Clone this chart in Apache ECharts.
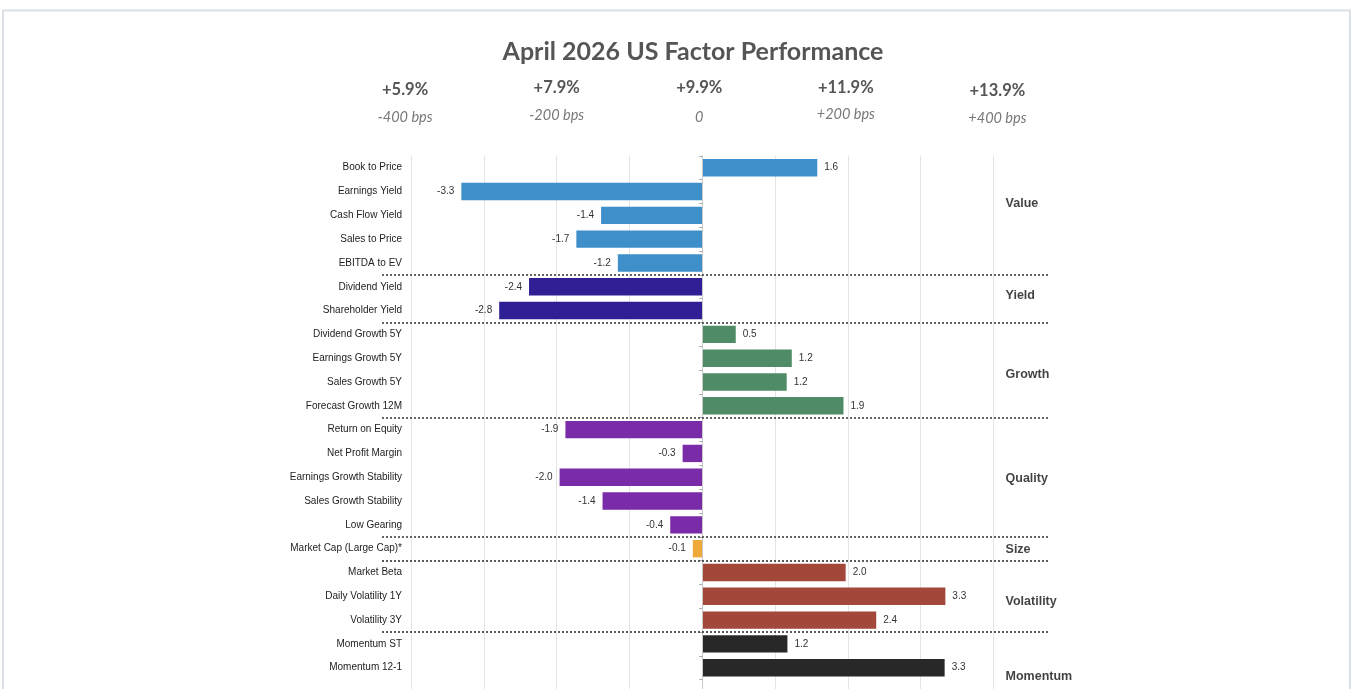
<!DOCTYPE html>
<html><head><meta charset="utf-8">
<script src="https://cdn.jsdelivr.net/npm/echarts@6/dist/echarts.min.js"></script>
<style>html,body{margin:0;padding:0;background:#fff;overflow:hidden}#c{width:1354px;height:689px}</style>
</head><body><div id="c"></div>
<script>
// ---------- data ----------
const chartTitle = 'April 2026 US Factor Performance';
const factors = ['Book to Price','Earnings Yield','Cash Flow Yield','Sales to Price','EBITDA to EV',
  'Dividend Yield','Shareholder Yield',
  'Dividend Growth 5Y','Earnings Growth 5Y','Sales Growth 5Y','Forecast Growth 12M',
  'Return on Equity','Net Profit Margin','Earnings Growth Stability','Sales Growth Stability','Low Gearing',
  'Market Cap (Large Cap)*',
  'Market Beta','Daily Volatility 1Y','Volatility 3Y',
  'Momentum ST','Momentum 12-1'];
const factorGroups = ['Value','Value','Value','Value','Value',
  'Yield','Yield',
  'Growth','Growth','Growth','Growth',
  'Quality','Quality','Quality','Quality','Quality',
  'Size',
  'Volatility','Volatility','Volatility',
  'Momentum','Momentum'];
const values = [1.58,-3.31,-1.39,-1.73,-1.16,
  -2.38,-2.79,
  0.46,1.23,1.16,1.94,
  -1.88,-0.27,-1.96,-1.37,-0.44,
  -0.13,
  1.97,3.34,2.39,
  1.17,3.33];
const groupNames = ['Value','Yield','Growth','Quality','Size','Volatility','Momentum'];
const headerPct = ['+5.9%','+7.9%','+9.9%','+11.9%','+13.9%'];
const headerBps = ['-400 bps','-200 bps','0','+200 bps','+400 bps'];
const headerAt = [-4,-2,0,2,4];
const gridTicks = [-4,-3,-2,-1,0,1,2,3,4];

// ---------- styles / layout ----------
const groupColors = {Value:'#3f8fcb',Yield:'#2f1f95',Growth:'#4e8b66',Quality:'#7a2ba8',
  Size:'#efa83a',Volatility:'#a3473b',Momentum:'#282828'};
const groupLabelRow = [2.0,5.87,9.19,13.56,16.54,18.73,21.88];
const groupLabelX = 4.16;
const headerDx = [-6,0,-3,-2,4];
const pctY = [90,88,88,88,91];
const bpsY = [117,115,117,114,118];
const rows = factors.length + 1;
const FONT = '"Liberation Sans", Arial, sans-serif';
const HFONT = 'Lato, "Open Sans", sans-serif';

const boundaries = [];
for (let i = 1; i < factorGroups.length; i++) if (factorGroups[i] !== factorGroups[i-1]) boundaries.push(i);

const chart = echarts.init(document.getElementById('c'), null, {renderer:'canvas'});
const cats = factors.concat(['']);
const option = {
  backgroundColor:'#ffffff',
  animation:false,
  grid:{left:382, top:155.8, width:666, height:rows*23.81, containLabel:false, outerBoundsMode:'none'},
  xAxis:{type:'value', min:-4.4, max:4.75, show:false, splitLine:{show:false}},
  yAxis:[
    {type:'category', data:cats, inverse:true, axisLine:{show:false, onZero:false}, axisTick:{show:false},
     axisLabel:{margin:-20, fontSize:10, color:'#222', fontFamily:FONT}},
    {type:'value', min:0, max:rows, inverse:true, show:false, axisLine:{onZero:false}},
    {type:'category', data:cats, inverse:true, z:3, axisLine:{show:true, onZero:true, lineStyle:{color:'#c8c8c8', width:1}},
     axisTick:{show:true, inside:true, length:3, lineStyle:{color:'#aaaaaa'}}, axisLabel:{show:false}, splitLine:{show:false}}
  ],
  series:[
    {type:'scatter', yAxisIndex:1, data:[], z:0, silent:true,
     markLine:{z:0, silent:true, symbol:['none','none'], label:{show:false},
       lineStyle:{color:'#e4e4e4', width:1, type:'solid'},
       data:gridTicks.filter(v=>v!==0).map(v=>({xAxis:v}))}},
    {type:'bar', yAxisIndex:0, z:2, barCategoryGap:'27%',
     data:values.map((v,i)=>({value:v, itemStyle:{color:groupColors[factorGroups[i]]},
       label:{position: v<0?'left':'right'}})),
     label:{show:true, distance:7, fontSize:10, color:'#333', fontFamily:FONT,
       formatter:p=>p.value.toFixed(1)}},
    {type:'scatter', yAxisIndex:1, data:[], z:3, silent:true,
     markLine:{z:6, silent:true, symbol:['none','none'], label:{show:false},
       lineStyle:{color:'#333', width:1.6, type:[2,2]},
       data:boundaries.map(b=>({yAxis:b}))}},
    {type:'scatter', yAxisIndex:1, z:4, silent:true, symbolSize:1, itemStyle:{color:'rgba(0,0,0,0)'},
     data:groupNames.map((n,i)=>({name:n, value:[groupLabelX, groupLabelRow[i]]})),
     label:{show:true, position:'right', distance:0, formatter:p=>p.name,
       fontSize:12.5, fontWeight:'bold', color:'#111', fontFamily:FONT}}
  ]
};
chart.setOption(option);

const gfx = [
  {type:'rect', shape:{x:3, y:10.5, width:1347, height:720}, style:{fill:'none', stroke:'#d9e0e8', lineWidth:2}, z:100},
  {type:'text', x:693, y:52, style:{text:chartTitle, font:'bold 25px '+HFONT, fill:'#555555',
     textAlign:'center', textVerticalAlign:'middle', align:'center', verticalAlign:'middle'}}
];
headerAt.forEach((v,i)=>{
  const x = chart.convertToPixel({xAxisIndex:0}, v) + headerDx[i];
  gfx.push({type:'text', x:x, y:pctY[i], style:{text:headerPct[i], font:'bold 16.5px '+HFONT, fill:'#555555',
     textAlign:'center', textVerticalAlign:'middle', align:'center', verticalAlign:'middle'}});
  gfx.push({type:'text', x:x, y:bpsY[i], style:{text:headerBps[i], font:'italic 14.5px '+HFONT, fill:'#777777',
     textAlign:'center', textVerticalAlign:'middle', align:'center', verticalAlign:'middle'}});
});
chart.setOption({graphic:gfx});
</script></body></html>
